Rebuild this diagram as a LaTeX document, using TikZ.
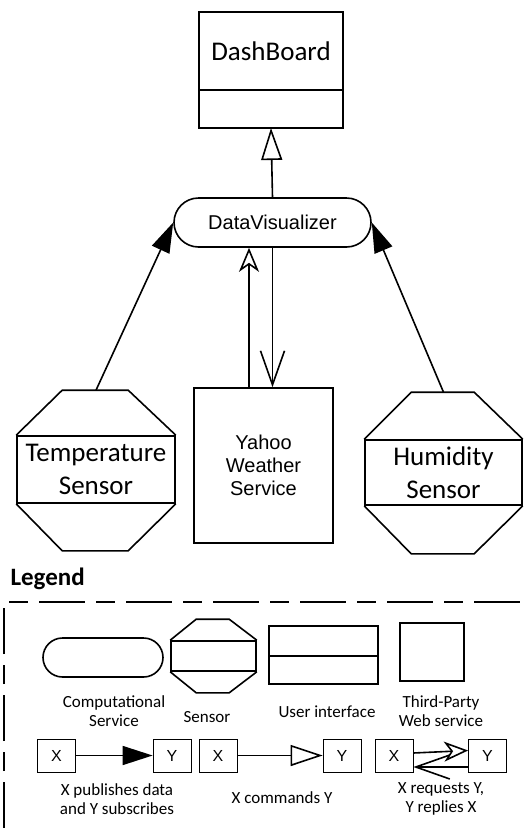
\documentclass[tikz,border=0pt]{standalone}
\usepackage{fontspec}
\setmainfont{Carlito}
\newfontfamily\arialfont{Liberation Sans}
\usetikzlibrary{arrows.meta,shapes.misc,positioning}

\begin{document}
\begin{tikzpicture}[x=1pt, y=-1pt,
  thickline/.style={line width=1.6pt},
  compbox/.style={thickline, draw, rounded rectangle, inner sep=0pt},
  sensorbox/.style={thickline, draw, rectangle, inner sep=0pt, align=center, font=\fontsize{27}{33}\selectfont},
  uibox/.style={thickline, draw, rectangle, outer sep=0pt, inner sep=0pt},
  webbox/.style={thickline, draw, rectangle, inner sep=0pt, align=center, font=\arialfont\fontsize{20}{23}\selectfont},
  xybox/.style={draw, line width=0.8pt, minimum width=38pt, minimum height=33pt, font=\arialfont\fontsize{16}{19}\selectfont},
  legtext/.style={align=center, font=\fontsize{17}{19}\selectfont},
  pubarrow/.style={thickline, -{Triangle[length=30pt, width=19pt]}},
  cmdarrow/.style={thickline, -{Triangle[open, length=32pt, width=21pt]}},
  reqarrow/.style={thickline, -{Stealth[open, length=24pt, width=20pt, inset=7pt]}},
  reparrow/.style={thickline, -{Straight Barb[length=34pt, width=24pt]}}]

\useasboundingbox (0,0) rectangle (524,828);

\node[uibox, minimum width=144pt, minimum height=78pt, font=\fontsize{27}{30}\selectfont] (board) at (271,51) {DashBoard};
\node[uibox, minimum width=144pt, minimum height=38pt, below=0pt of board] (boardbot) {};

\node[compbox, minimum width=197pt, minimum height=49pt, font=\arialfont\fontsize{20}{24}\selectfont] (vis) at (272.5,222.5) {DataVisualizer};

\node[sensorbox, minimum width=158pt, minimum height=67pt] (temp) at (96,469.5) {Temperature\\Sensor};
\draw[thickline, line join=miter] (temp.north west) -- ++(46,-45) coordinate (tempnw) -- ++(66,0) -- (temp.north east);
\draw[thickline, line join=miter] (temp.south west) -- ++(46,47) -- ++(66,0) -- (temp.south east);
\coordinate (temptop) at ([yshift=45pt]temp.north);

\node[sensorbox, minimum width=157pt, minimum height=65pt] (hum) at (443.5,472.5) {Humidity\\Sensor};
\draw[thickline, line join=miter] (hum.north west) -- ++(47,-47) -- ++(63,0) -- (hum.north east);
\draw[thickline, line join=miter] (hum.south west) -- ++(47,48) -- ++(63,0) -- (hum.south east);
\coordinate (humtop) at ([yshift=47pt]hum.north);

\node[webbox, minimum width=139pt, minimum height=155pt] (yahoo) at (263.5,465.5) {Yahoo\\Weather\\Service};

\draw[cmdarrow] (vis.north) -- (boardbot.south);
\draw[pubarrow] (temptop) -- (vis.west);
\draw[pubarrow] (humtop) -- (vis.east);
\coordinate (upfoot) at ([xshift=-14.5pt]yahoo.north);
\draw[reqarrow] (upfoot) -- (upfoot |- vis.south);
\draw[reparrow] (vis.south) -- (vis.south |- yahoo.north);

\node[anchor=base west, font=\bfseries\fontsize{25}{30}\selectfont] (legend) at (7,585) {Legend};
\draw[thickline, dash pattern=on 46pt off 11pt on 19pt off 11pt] (4,828) -- (4,602) -- (524,602);

\node[compbox, minimum width=120pt, minimum height=39pt] (lcomp) at (103,657.5) {};
\node[sensorbox, minimum width=85pt, minimum height=30pt] (lsens) at (213.5,656) {};
\draw[thickline, line join=miter] (lsens.north west) -- ++(26,-21) -- ++(33,0) -- (lsens.north east);
\draw[thickline, line join=miter] (lsens.south west) -- ++(26,21) -- ++(33,0) -- (lsens.south east);
\node[uibox, minimum width=109pt, minimum height=30pt] (lui) at (323.5,641) {};
\node[uibox, minimum width=109pt, minimum height=28pt, below=0pt of lui] (luibot) {};
\node[webbox, minimum width=64pt, minimum height=58pt] (lweb) at (432,652) {};

\node[legtext] (lcomptext) at (114,711) {Computational\\Service};
\node[legtext] (lsenstext) at (207,717) {Sensor};
\node[legtext] (luitext) at (327,712) {User interface};
\node[legtext] (lwebtext) at (441,711) {Third-Party\\Web service};

\node[xybox] (x1) at (56.5,755.5) {X};
\node[xybox] (y1) at (172,755.5) {Y};
\node[xybox] (x2) at (218,755.5) {X};
\node[xybox] (y2) at (342,755.5) {Y};
\node[xybox] (x3) at (394,755.5) {X};
\node[xybox] (y3) at (487.5,755.5) {Y};

\draw[pubarrow] (x1) -- (y1);
\draw[cmdarrow] (x2) -- (y2);
\draw[reqarrow] ([yshift=2.5pt]x3.east) -- ([yshift=5pt]y3.west);
\draw[reparrow] ([yshift=-11.5pt]y3.west) -- ([yshift=-11.5pt]x3.east);

\node[legtext] (pubtext) at (117,799) {X publishes data\\and Y subscribes};
\node[legtext] (cmdtext) at (282,798) {X commands Y};
\node[legtext] (reqtext) at (441,799) {X requests Y,\\Y replies X};

\end{tikzpicture}
\end{document}
